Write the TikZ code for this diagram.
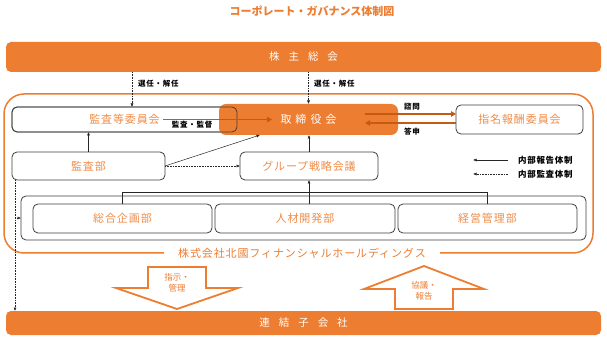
\documentclass[tikz,border=0pt]{standalone}
\usepackage{fontspec}
\setmainfont{Noto Sans CJK JP}
\newfontfamily\jpls[LetterSpace=8]{Noto Sans CJK JP}
\newfontfamily\jpsm[LetterSpace=10]{Noto Sans CJK JP}
\usetikzlibrary{arrows.meta}
\definecolor{og}{HTML}{ED7D31}
\definecolor{ogtext}{HTML}{F08C48}
\definecolor{ogdark}{HTML}{C55A11}
\definecolor{bd}{HTML}{3F3F3F}
\begin{document}
\begin{tikzpicture}[x=1pt,y=-1pt,
  box/.style={draw=bd, line width=0.8pt, rounded corners=5pt, fill=white, text=ogtext, font=\jpls\fontsize{11}{13}\selectfont, inner sep=0pt, outer sep=0pt},
  obar/.style={fill=og, rounded corners=5pt, text=white, font=\fontsize{10.5}{13}\selectfont, inner sep=0pt, outer sep=0pt},
  arr/.style={-{Latex[length=3.5pt,width=3pt]}, line width=0.5pt, draw=black!85},
  dotarr/.style={arr, dash pattern=on 0.8pt off 0.8pt},
  tarr/.style={-{Triangle[length=5pt,width=5.5pt]}, line width=1.8pt, draw=ogdark},
  lbl/.style={font=\jpsm\bfseries\fontsize{7.5}{9}\selectfont, text=black, inner sep=0pt},
  leg/.style={font=\jpls\bfseries\fontsize{8.5}{10}\selectfont, text=black, inner sep=0pt},
  bigarr/.style={draw=og, line width=1.8pt, fill=white, line join=miter},
  arrtext/.style={text=og, font=\fontsize{8.5}{11}\selectfont, align=center, inner sep=0pt}
]
\useasboundingbox[fill=white] (0,0) rectangle (607,344);

% title
\node[font=\bfseries\fontsize{11}{13}\selectfont, text=og] (title) at (312,11) {コーポレート・ガバナンス体制図};

% outer company frame
\draw[draw=og, line width=1.5pt, rounded corners=20pt] (4,94) rectangle (593,253);
\node[fill=white, text=og, font=\jpls\fontsize{11}{13}\selectfont, inner xsep=14pt, inner ysep=2pt] (hd) at (302,253) {株式会社北國フィナンシャルホールディングス};

% bars
\node[obar, minimum width=595pt, minimum height=30pt] (kabu) at (303.5,57) {株\hspace{9pt}主\hspace{9pt}総\hspace{9pt}会};
\node[obar, minimum width=595pt, minimum height=24pt] (renk) at (303.5,323) {連\hspace{9pt}結\hspace{9pt}子\hspace{9pt}会\hspace{9pt}社};

% boxes
\node[box, minimum width=225pt, minimum height=25pt] (kiin) at (124.5,119.5) {監査等委員会};
\node[obar, rounded corners=7pt, minimum width=179pt, minimum height=31pt, font=\fontsize{11}{13}\selectfont] (tori) at (308.5,119.5) {取\hspace{4pt}締\hspace{4pt}役\hspace{4pt}会};
\draw[draw=bd, line width=0.8pt, rounded corners=5pt] (kiin.north west) rectangle (kiin.south east);
\node[box, minimum width=127pt, minimum height=29pt] (shimei) at (519.5,119.5) {指名報酬委員会};
\node[box, minimum width=153pt, minimum height=28pt] (kbu) at (88.5,166) {監査部};
\node[box, minimum width=138pt, minimum height=28pt] (grp) at (309,166) {グループ戦略会議};
\node[box, text=black, minimum width=565pt, minimum height=44pt] (dept) at (303.5,218) {};
\node[box, minimum width=179pt, minimum height=29pt] (sogo) at (122.5,218.5) {総合企画部};
\node[box, minimum width=180pt, minimum height=29pt] (jinz) at (305,218.5) {人材開発部};
\node[box, minimum width=179pt, minimum height=29pt] (keie) at (487.5,218.5) {経営管理部};

% shareholders -> boards
\coordinate (p1) at ([xshift=7.5pt]kiin.north);
\draw[dotarr] (kabu.south -| p1) -- (p1);
\draw[dotarr] (kabu.south -| tori.north) -- (tori.north);
\node[lbl, anchor=west] (s1) at (138,84) {選任・解任};
\node[lbl, anchor=west] (s2) at (314,84) {選任・解任};

% audit committee -> board
\draw[tarr] ([xshift=38.5pt]kiin.center) -- ([xshift=-36.5pt]tori.center);
\node[lbl] (kk) at (192,125) {監査・監督};

% board <-> nomination
\coordinate (t1) at ([xshift=-33pt,yshift=5.5pt]tori.east);
\coordinate (t2) at ([xshift=-33pt,yshift=-3.5pt]tori.east);
\draw[tarr] (t1) -- (t1 -| shimei.west);
\draw[tarr] (t2 -| shimei.west) -- (t2);
\node[lbl] (sm) at (412,107) {諮問};
\node[lbl] (ts) at (412,132) {答申};

% internal
\draw[arr] (kbu.north) -- (kbu.north |- kiin.south);
\draw[arr] (kbu.east) -- ([xshift=-48.5pt]tori.south);
\draw[dotarr] (kbu.east) -- (grp.west);
\draw[arr] (grp.north) -- (grp.north |- tori.south);
\draw[line width=0.5pt, draw=black!85] (sogo.north) -- ++(0,-12) -| (keie.north);
\draw[arr] (grp.south |- jinz.north) -- (grp.south);

% audit dotted line to subsidiaries
\coordinate (ls) at ([xshift=3pt]kbu.south west);
\draw[dotarr] (ls) -- (ls |- renk.north);
\draw[arr, dash pattern=on 0.8pt off 0.8pt] (ls |- dept.west) -- (dept.west);

% legend
\node[leg, anchor=west] (lg1) at (518,160) {内部報告体制};
\node[leg, anchor=west] (lg2) at (518,174) {内部監査体制};
\draw[arr] ([xshift=-10pt]lg1.west) -- ++(-35,0);
\draw[dotarr] ([xshift=-10pt]lg2.west) -- ++(-35,0);

% big arrows
\draw[bigarr] (148,267) -- (206,267) -- (206,288) -- (238,288) -- (177,309) -- (116,288) -- (148,288) -- cycle;
\node[arrtext] (a1) at (177,283) {指示・\\管理};
\draw[bigarr] (395,309) -- (453,309) -- (453,289) -- (484,289) -- (424,266) -- (364,289) -- (395,289) -- cycle;
\node[arrtext] (a2) at (424,291) {協議・\\報告};
\end{tikzpicture}
\end{document}
